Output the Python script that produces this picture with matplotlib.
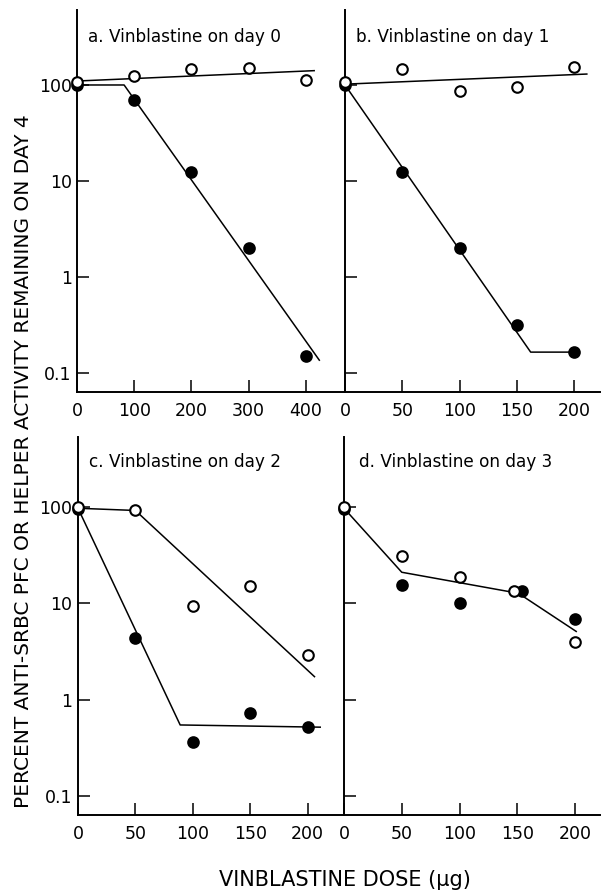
import matplotlib
matplotlib.use("Agg")
import matplotlib.pyplot as plt
from matplotlib.ticker import FixedLocator, FixedFormatter, NullLocator

plt.rcParams['font.family'] = ['DejaVu Sans']

W, H = 601, 892

# ---------------- data ----------------
titles = ["a. Vinblastine on day 0", "b. Vinblastine on day 1",
          "c. Vinblastine on day 2", "d. Vinblastine on day 3"]

# panel a
a_open_x = [0, 100, 200, 300, 400]
a_open_y = [108, 124, 146, 151, 113]
a_fill_x = [0, 100, 200, 300, 400]
a_fill_y = [100, 70, 12.4, 2.0, 0.151]
a_open_line_x = [0, 75, 415]
a_open_line_y = [110, 115, 141]
a_fill_line_x = [0, 82, 424]
a_fill_line_y = [100, 100, 0.136]

# panel b
b_open_x = [0, 50, 100, 150, 200]
b_open_y = [108, 146, 87, 95, 155]
b_fill_x = [0, 50, 100, 150, 200]
b_fill_y = [100, 12.5, 2.0, 0.316, 0.167]
b_open_line_x = [0, 211]
b_open_line_y = [102, 130]
b_fill_line_x = [0, 162, 202]
b_fill_line_y = [100, 0.165, 0.165]

# panel c
c_open_x = [0, 50, 100, 150, 200]
c_open_y = [100, 93, 9.4, 15.1, 2.9]
c_fill_x = [0, 50, 100, 150, 200]
c_fill_y = [95, 4.4, 0.36, 0.73, 0.52]
c_open_line_x = [0, 50, 206]
c_open_line_y = [97, 92, 1.73]
c_fill_line_x = [0, 89, 211]
c_fill_line_y = [97, 0.545, 0.517]

# panel d
d_open_x = [0, 50, 100, 147, 200]
d_open_y = [100, 31, 18.9, 13.5, 4.0]
d_fill_x = [0, 50, 100, 154, 200]
d_fill_y = [95, 15.5, 10, 13.5, 6.8]
d_line_x = [0, 50, 151, 201]
d_line_y = [97, 21, 12.7, 5.1]

a_xticks = [0, 100, 200, 300, 400]
a_xticklabels = ["0", "100", "200", "300", "400"]
bcd_xticks = [0, 50, 100, 150, 200]
bcd_xticklabels = ["0", "50", "100", "150", "200"]
yticks = [0.1, 1, 10, 100]
yticklabels = ["0.1", "1", "10", "100"]

ylabel = "PERCENT ANTI-SRBC PFC OR HELPER ACTIVITY REMAINING ON DAY 4"
xlabel = "VINBLASTINE DOSE (\u03bcg)"

# ---------------- layout ----------------
fig = plt.figure(figsize=(W / 100, H / 100), dpi=100)


def px_axes(l, r, t, b):
    return fig.add_axes([l / W, 1 - b / H, (r - l) / W, (b - t) / H])


ax_a = px_axes(77.3, 345, 10, 392)
ax_b = px_axes(345, 600, 10, 392)
ax_c = px_axes(78, 344, 437, 815)
ax_d = px_axes(344, 600, 437, 815)

ax_a.set_xlim(0, 469)
ax_b.set_xlim(0, 222.5)
ax_c.set_xlim(0, 231.7)
ax_d.set_xlim(0, 221.6)
for ax in (ax_a, ax_b):
    ax.set_yscale('log')
    ax.set_ylim(0.0634, 604)
for ax in (ax_c, ax_d):
    ax.set_yscale('log')
    ax.set_ylim(0.0633, 533)

ms = 7.6
lw = 1.1
mew = 1.5


def style(ax, xt, xtl, ylabels):
    for s in ('top', 'right'):
        ax.spines[s].set_visible(False)
    for s in ('left', 'bottom'):
        ax.spines[s].set_linewidth(1.4)
    ax.xaxis.set_major_locator(FixedLocator(xt))
    ax.xaxis.set_major_formatter(FixedFormatter(xtl))
    ax.yaxis.set_major_locator(FixedLocator(yticks))
    ax.yaxis.set_minor_locator(NullLocator())
    if ylabels:
        ax.yaxis.set_major_formatter(FixedFormatter(yticklabels))
    else:
        ax.yaxis.set_major_formatter(FixedFormatter([""] * len(yticks)))
    ax.tick_params(axis='both', which='major', direction='in', length=8.5,
                   width=1.1, labelsize=12.5, color='black')
    ax.tick_params(axis='x', pad=7)
    ax.tick_params(axis='y', pad=4)
    ax.set_facecolor('none')


style(ax_a, a_xticks, a_xticklabels, True)
style(ax_b, bcd_xticks, bcd_xticklabels, False)
style(ax_c, bcd_xticks, bcd_xticklabels, True)
style(ax_d, bcd_xticks, bcd_xticklabels, False)


def points(ax, ox, oy, fx, fy):
    ax.plot(fx, fy, 'o', ms=ms, mfc='black', mec='black', mew=mew,
            clip_on=False, zorder=4)
    ax.plot(ox, oy, 'o', ms=ms, mfc='white', mec='black', mew=mew,
            clip_on=False, zorder=5)


ax_a.plot(a_open_line_x, a_open_line_y, 'k-', lw=lw)
ax_a.plot(a_fill_line_x, a_fill_line_y, 'k-', lw=lw)
points(ax_a, a_open_x, a_open_y, a_fill_x, a_fill_y)

ax_b.plot(b_open_line_x, b_open_line_y, 'k-', lw=lw)
ax_b.plot(b_fill_line_x, b_fill_line_y, 'k-', lw=lw)
points(ax_b, b_open_x, b_open_y, b_fill_x, b_fill_y)

ax_c.plot(c_open_line_x, c_open_line_y, 'k-', lw=lw)
ax_c.plot(c_fill_line_x, c_fill_line_y, 'k-', lw=lw)
points(ax_c, c_open_x, c_open_y, c_fill_x, c_fill_y)

ax_d.plot(d_line_x, d_line_y, 'k-', lw=lw)
points(ax_d, d_open_x, d_open_y, d_fill_x, d_fill_y)

# panel titles
title_pos = [(88, 37), (356, 37), (89, 462), (359, 462)]
for t, (x, y) in zip(titles, title_pos):
    fig.text(x / W, 1 - y / H, t, fontsize=12.2, ha='left', va='center')

fig.text(24 / W, 1 - 461 / H, ylabel, rotation=90, fontsize=14.5,
         ha='center', va='center')
fig.text(345 / W, 1 - 880 / H, xlabel, fontsize=15, ha='center', va='center')

fig.savefig("out.png", dpi=100, facecolor='white')
